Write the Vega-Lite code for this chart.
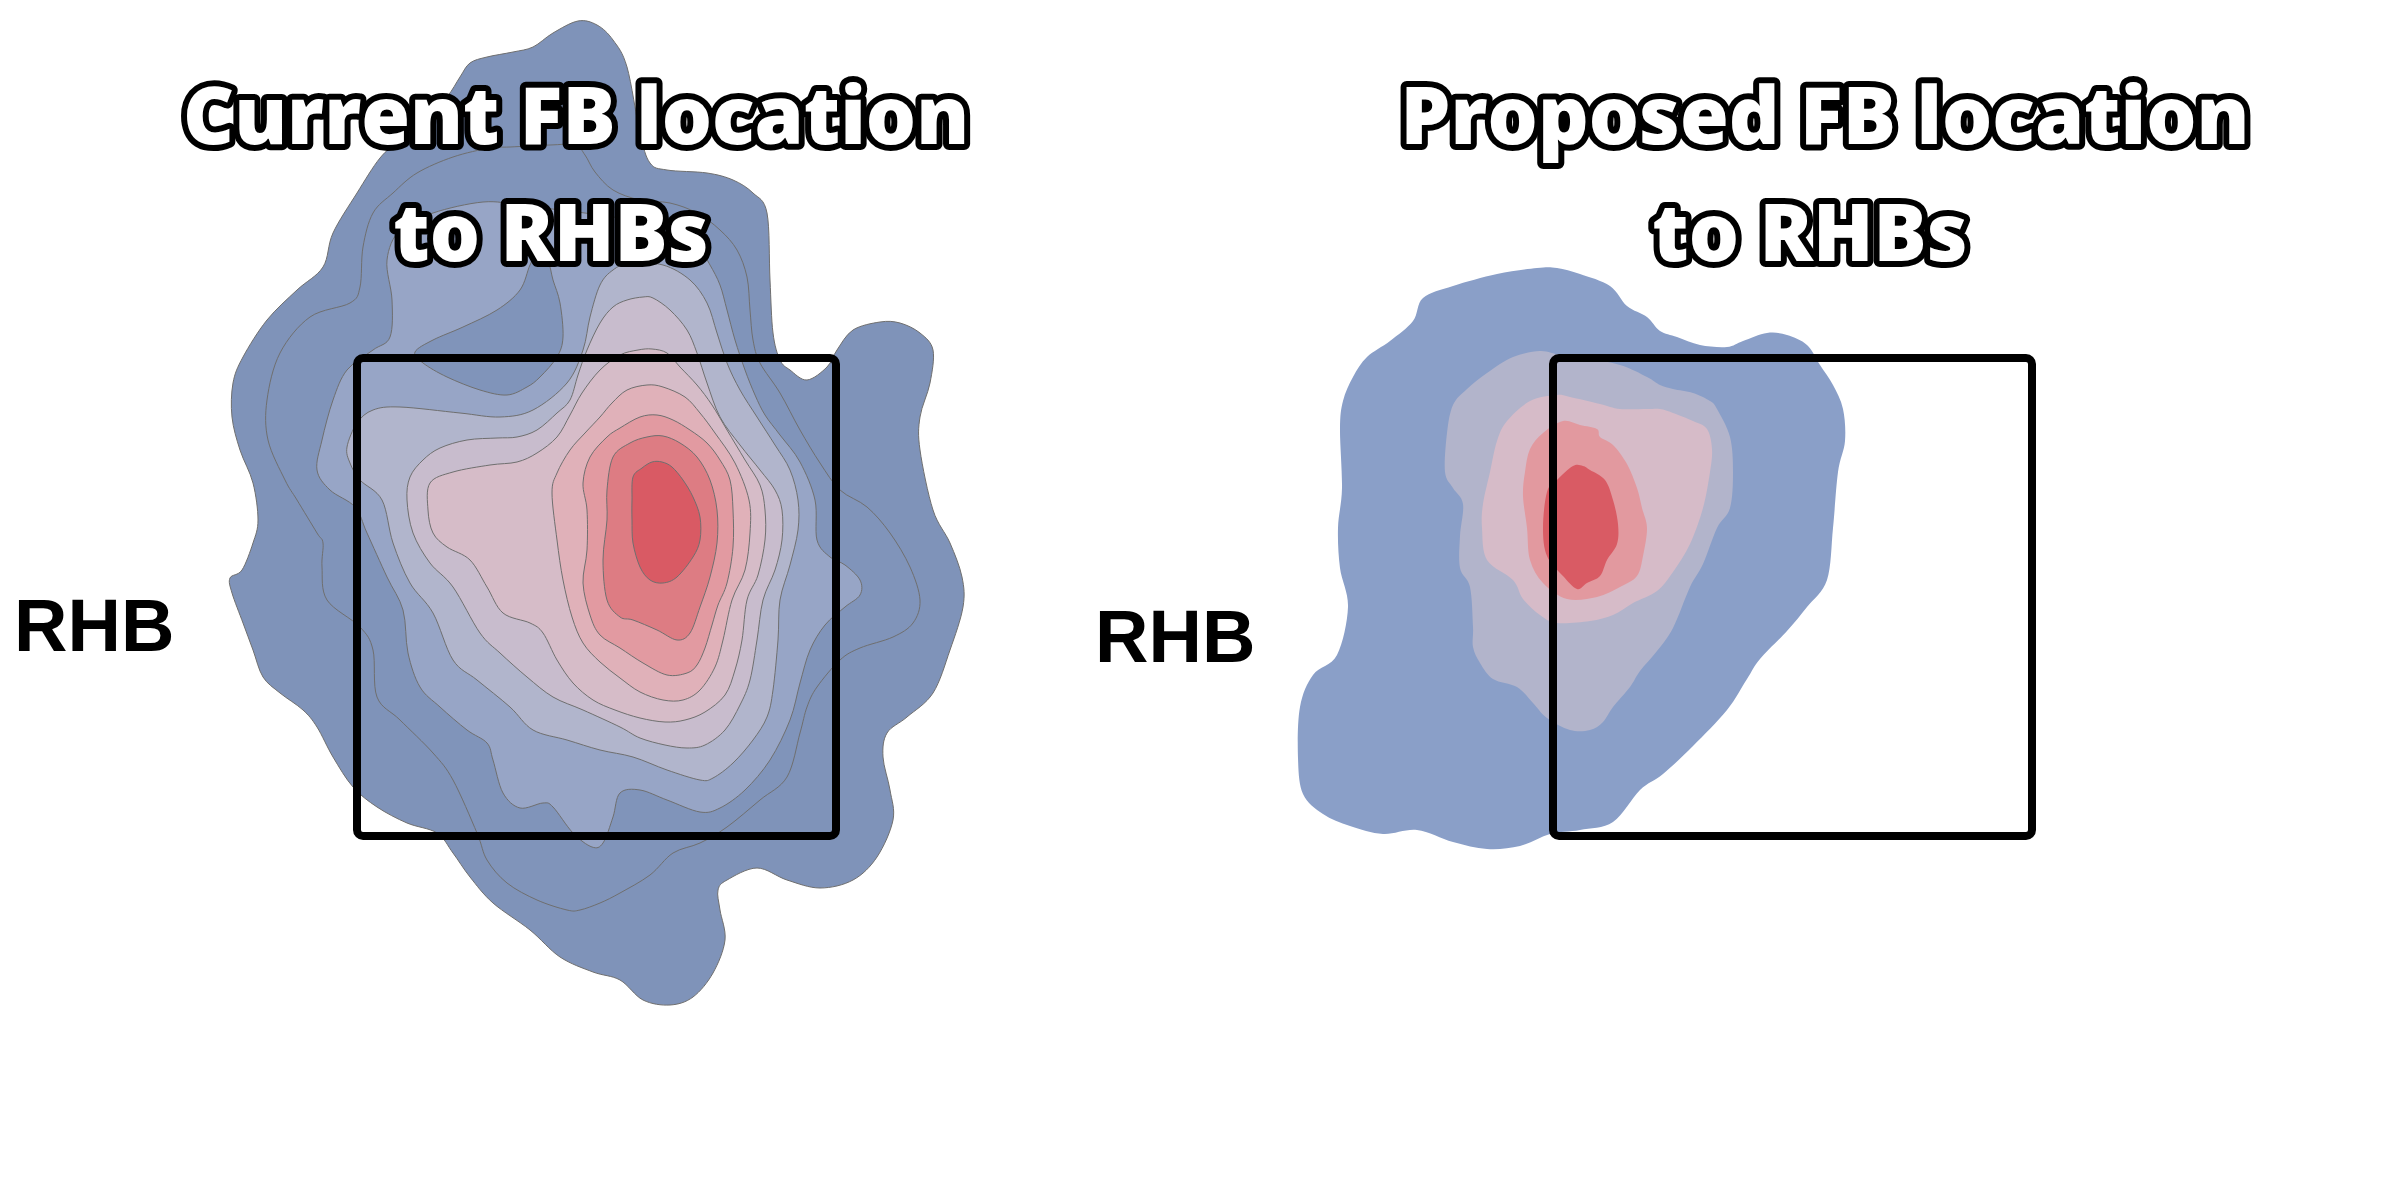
{
"$schema": "https://vega.github.io/schema/vega-lite/v6.json",
"padding": 0,
"spacing": 0,
"bounds": "flush",
"background": "white",
"config": {"view": {"stroke": null, "fill": "white"}},
"datasets": {
"left": [
{"g":"L1","x":-2.2,"y":117.3},{"g":"L1","x":-4.7,"y":116.1},{"g":"L1","x":-6.7,"y":114.7},{"g":"L1","x":-8.7,"y":114.2},{"g":"L1","x":-11.3,"y":113.7},{"g":"L1","x":-13.0,"y":113.1},{"g":"L1","x":-14.0,"y":111.7},{"g":"L1","x":-15.3,"y":109.7},{"g":"L1","x":-17.5,"y":107.4},{"g":"L1","x":-20.0,"y":105.4},{"g":"L1","x":-22.0,"y":103.6},{"g":"L1","x":-24.3,"y":100.1},{"g":"L1","x":-26.7,"y":96.1},{"g":"L1","x":-27.7,"y":92.7},{"g":"L1","x":-30.3,"y":90.4},{"g":"L1","x":-33.3,"y":87.4},{"g":"L1","x":-35.7,"y":83.7},{"g":"L1","x":-36.7,"y":81.1},{"g":"L1","x":-36.8,"y":77.7},{"g":"L1","x":-36.0,"y":74.4},{"g":"L1","x":-34.7,"y":71.1},{"g":"L1","x":-34.2,"y":67.4},{"g":"L1","x":-34.7,"y":65.1},{"g":"L1","x":-35.8,"y":62.4},{"g":"L1","x":-37.0,"y":61.6},{"g":"L1","x":-36.8,"y":60.1},{"g":"L1","x":-35.7,"y":57.1},{"g":"L1","x":-34.7,"y":54.4},{"g":"L1","x":-33.7,"y":51.7},{"g":"L1","x":-32.0,"y":50.1},{"g":"L1","x":-29.7,"y":48.4},{"g":"L1","x":-28.3,"y":46.7},{"g":"L1","x":-26.7,"y":43.7},{"g":"L1","x":-24.7,"y":40.7},{"g":"L1","x":-22.3,"y":38.7},{"g":"L1","x":-19.3,"y":37.1},{"g":"L1","x":-16.3,"y":36.1},{"g":"L1","x":-14.7,"y":34.1},{"g":"L1","x":-13.0,"y":31.7},{"g":"L1","x":-10.7,"y":29.1},{"g":"L1","x":-7.0,"y":26.4},{"g":"L1","x":-4.0,"y":23.7},{"g":"L1","x":-0.7,"y":22.2},{"g":"L1","x":2.0,"y":21.4},{"g":"L1","x":4.3,"y":19.4},{"g":"L1","x":7.0,"y":18.9},{"g":"L1","x":9.3,"y":19.7},{"g":"L1","x":11.3,"y":22.1},{"g":"L1","x":12.5,"y":25.4},{"g":"L1","x":12.0,"y":28.4},{"g":"L1","x":11.8,"y":30.4},{"g":"L1","x":12.7,"y":31.4},{"g":"L1","x":15.7,"y":32.6},{"g":"L1","x":18.7,"y":31.4},{"g":"L1","x":22.0,"y":30.6},{"g":"L1","x":25.3,"y":31.4},{"g":"L1","x":27.7,"y":33.7},{"g":"L1","x":29.3,"y":37.4},{"g":"L1","x":29.0,"y":40.4},{"g":"L1","x":28.3,"y":43.7},{"g":"L1","x":28.7,"y":46.1},{"g":"L1","x":30.7,"y":47.7},{"g":"L1","x":33.3,"y":50.1},{"g":"L1","x":35.0,"y":54.4},{"g":"L1","x":36.3,"y":58.7},{"g":"L1","x":36.2,"y":61.7},{"g":"L1","x":35.0,"y":65.1},{"g":"L1","x":33.3,"y":68.4},{"g":"L1","x":32.0,"y":74.4},{"g":"L1","x":32.0,"y":77.7},{"g":"L1","x":33.0,"y":81.1},{"g":"L1","x":33.3,"y":84.4},{"g":"L1","x":32.0,"y":86.1},{"g":"L1","x":30.0,"y":87.1},{"g":"L1","x":28.0,"y":87.2},{"g":"L1","x":25.3,"y":86.4},{"g":"L1","x":23.7,"y":84.4},{"g":"L1","x":22.7,"y":82.7},{"g":"L1","x":20.7,"y":81.4},{"g":"L1","x":19.0,"y":82.4},{"g":"L1","x":18.0,"y":83.4},{"g":"L1","x":17.3,"y":86.1},{"g":"L1","x":17.0,"y":91.4},{"g":"L1","x":16.7,"y":98.1},{"g":"L1","x":15.3,"y":100.1},{"g":"L1","x":13.3,"y":101.4},{"g":"L1","x":10.7,"y":102.1},{"g":"L1","x":6.7,"y":102.4},{"g":"L1","x":5.0,"y":103.1},{"g":"L1","x":4.0,"y":106.1},{"g":"L1","x":2.7,"y":112.7},{"g":"L1","x":1.3,"y":115.4},{"g":"L1","x":-0.3,"y":116.9},
{"g":"L2","x":-30.3,"y":69.4},{"g":"L2","x":-31.5,"y":71.4},{"g":"L2","x":-33.2,"y":75.4},{"g":"L2","x":-33.3,"y":79.4},{"g":"L2","x":-32.0,"y":84.1},{"g":"L2","x":-29.0,"y":87.7},{"g":"L2","x":-25.0,"y":89.1},{"g":"L2","x":-24.0,"y":90.7},{"g":"L2","x":-23.7,"y":94.7},{"g":"L2","x":-22.7,"y":98.1},{"g":"L2","x":-20.7,"y":100.1},{"g":"L2","x":-18.3,"y":102.1},{"g":"L2","x":-14.7,"y":103.7},{"g":"L2","x":-11.0,"y":104.6},{"g":"L2","x":-9.0,"y":104.7},{"g":"L2","x":-5.0,"y":104.9},{"g":"L2","x":-2.5,"y":104.9},{"g":"L2","x":-1.5,"y":103.9},{"g":"L2","x":-0.5,"y":102.2},{"g":"L2","x":1.3,"y":100.4},{"g":"L2","x":4.0,"y":99.4},{"g":"L2","x":7.0,"y":99.1},{"g":"L2","x":9.7,"y":98.1},{"g":"L2","x":12.0,"y":96.4},{"g":"L2","x":13.7,"y":94.4},{"g":"L2","x":14.7,"y":91.7},{"g":"L2","x":15.0,"y":88.4},{"g":"L2","x":15.3,"y":85.4},{"g":"L2","x":16.0,"y":83.1},{"g":"L2","x":18.0,"y":80.1},{"g":"L2","x":20.0,"y":76.4},{"g":"L2","x":22.0,"y":73.1},{"g":"L2","x":24.0,"y":70.4},{"g":"L2","x":26.7,"y":68.7},{"g":"L2","x":29.0,"y":66.1},{"g":"L2","x":31.0,"y":62.7},{"g":"L2","x":32.0,"y":59.4},{"g":"L2","x":31.3,"y":57.1},{"g":"L2","x":29.3,"y":55.7},{"g":"L2","x":26.0,"y":54.6},{"g":"L2","x":24.0,"y":53.4},{"g":"L2","x":21.7,"y":50.7},{"g":"L2","x":20.7,"y":48.7},{"g":"L2","x":20.0,"y":46.1},{"g":"L2","x":18.7,"y":41.7},{"g":"L2","x":16.0,"y":39.4},{"g":"L2","x":12.7,"y":36.7},{"g":"L2","x":10.0,"y":35.1},{"g":"L2","x":7.3,"y":34.1},{"g":"L2","x":5.0,"y":31.9},{"g":"L2","x":2.0,"y":30.1},{"g":"L2","x":0.0,"y":29.1},{"g":"L2","x":-2.0,"y":28.4},{"g":"L2","x":-3.3,"y":28.4},{"g":"L2","x":-6.3,"y":29.4},{"g":"L2","x":-9.3,"y":31.1},{"g":"L2","x":-11.3,"y":33.4},{"g":"L2","x":-12.3,"y":36.1},{"g":"L2","x":-14.7,"y":41.4},{"g":"L2","x":-16.7,"y":44.1},{"g":"L2","x":-20.0,"y":47.4},{"g":"L2","x":-22.3,"y":49.7},{"g":"L2","x":-22.7,"y":54.4},{"g":"L2","x":-24.0,"y":56.7},{"g":"L2","x":-27.3,"y":59.4},{"g":"L2","x":-27.8,"y":62.7},{"g":"L2","x":-27.7,"y":65.1},{"g":"L2","x":-28.3,"y":66.1},
{"g":"L3","x":-24.5,"y":68.7},{"g":"L3","x":-27.0,"y":70.4},{"g":"L3","x":-28.3,"y":72.4},{"g":"L3","x":-27.8,"y":75.4},{"g":"L3","x":-26.7,"y":79.4},{"g":"L3","x":-25.3,"y":82.4},{"g":"L3","x":-22.7,"y":84.4},{"g":"L3","x":-21.0,"y":85.7},{"g":"L3","x":-20.8,"y":89.4},{"g":"L3","x":-21.3,"y":93.4},{"g":"L3","x":-20.0,"y":96.4},{"g":"L3","x":-16.7,"y":98.1},{"g":"L3","x":-11.7,"y":99.2},{"g":"L3","x":-8.0,"y":98.9},{"g":"L3","x":-4.0,"y":98.4},{"g":"L3","x":0.0,"y":97.9},{"g":"L3","x":4.0,"y":97.2},{"g":"L3","x":8.0,"y":95.9},{"g":"L3","x":10.0,"y":94.4},{"g":"L3","x":11.0,"y":92.9},{"g":"L3","x":12.0,"y":90.9},{"g":"L3","x":12.7,"y":88.4},{"g":"L3","x":13.5,"y":85.4},{"g":"L3","x":14.5,"y":82.4},{"g":"L3","x":15.5,"y":79.9},{"g":"L3","x":16.5,"y":77.9},{"g":"L3","x":18.0,"y":75.9},{"g":"L3","x":20.0,"y":73.2},{"g":"L3","x":21.5,"y":69.4},{"g":"L3","x":21.7,"y":65.4},{"g":"L3","x":23.0,"y":63.7},{"g":"L3","x":24.5,"y":62.9},{"g":"L3","x":26.0,"y":61.4},{"g":"L3","x":26.0,"y":59.9},{"g":"L3","x":24.5,"y":58.7},{"g":"L3","x":22.5,"y":56.9},{"g":"L3","x":21.0,"y":54.4},{"g":"L3","x":20.0,"y":51.1},{"g":"L3","x":19.0,"y":47.4},{"g":"L3","x":17.0,"y":43.4},{"g":"L3","x":14.5,"y":40.4},{"g":"L3","x":12.0,"y":38.6},{"g":"L3","x":10.0,"y":38.2},{"g":"L3","x":6.7,"y":39.4},{"g":"L3","x":4.0,"y":40.4},{"g":"L3","x":2.0,"y":40.1},{"g":"L3","x":1.3,"y":37.7},{"g":"L3","x":0.3,"y":35.1},{"g":"L3","x":-0.8,"y":34.7},{"g":"L3","x":-2.7,"y":36.1},{"g":"L3","x":-4.7,"y":38.7},{"g":"L3","x":-5.7,"y":39.1},{"g":"L3","x":-8.0,"y":38.6},{"g":"L3","x":-9.7,"y":40.1},{"g":"L3","x":-10.7,"y":43.4},{"g":"L3","x":-11.3,"y":45.1},{"g":"L3","x":-13.3,"y":46.4},{"g":"L3","x":-16.0,"y":48.7},{"g":"L3","x":-18.0,"y":50.7},{"g":"L3","x":-19.2,"y":54.1},{"g":"L3","x":-19.7,"y":58.4},{"g":"L3","x":-21.3,"y":61.7},{"g":"L3","x":-23.3,"y":66.1},
{"g":"I","x":-6.3,"y":93.9},{"g":"I","x":-5.2,"y":93.2},{"g":"I","x":-4.7,"y":91.4},{"g":"I","x":-4.0,"y":89.1},{"g":"I","x":-3.7,"y":85.7},{"g":"I","x":-4.3,"y":83.7},{"g":"I","x":-6.0,"y":81.7},{"g":"I","x":-7.3,"y":80.7},{"g":"I","x":-9.3,"y":79.9},{"g":"I","x":-12.0,"y":80.4},{"g":"I","x":-15.3,"y":81.7},{"g":"I","x":-17.7,"y":83.1},{"g":"I","x":-18.5,"y":84.2},{"g":"I","x":-16.7,"y":85.4},{"g":"I","x":-13.7,"y":86.7},{"g":"I","x":-10.3,"y":88.4},{"g":"I","x":-8.0,"y":90.4},{"g":"I","x":-7.0,"y":92.9},
{"g":"L4","x":-25.3,"y":74.7},{"g":"L4","x":-24.3,"y":77.1},{"g":"L4","x":-22.7,"y":78.4},{"g":"L4","x":-20.0,"y":78.7},{"g":"L4","x":-14.0,"y":78.1},{"g":"L4","x":-10.0,"y":77.7},{"g":"L4","x":-6.7,"y":78.4},{"g":"L4","x":-3.3,"y":81.1},{"g":"L4","x":-1.7,"y":84.4},{"g":"L4","x":-1.0,"y":87.7},{"g":"L4","x":0.0,"y":90.9},{"g":"L4","x":1.3,"y":92.4},{"g":"L4","x":3.0,"y":93.1},{"g":"L4","x":6.3,"y":92.9},{"g":"L4","x":9.0,"y":91.4},{"g":"L4","x":10.7,"y":89.1},{"g":"L4","x":11.7,"y":86.1},{"g":"L4","x":12.7,"y":83.1},{"g":"L4","x":14.0,"y":80.4},{"g":"L4","x":15.7,"y":77.7},{"g":"L4","x":17.5,"y":74.9},{"g":"L4","x":19.0,"y":72.4},{"g":"L4","x":19.8,"y":69.4},{"g":"L4","x":19.8,"y":66.4},{"g":"L4","x":19.0,"y":62.9},{"g":"L4","x":18.0,"y":59.4},{"g":"L4","x":17.8,"y":55.4},{"g":"L4","x":17.3,"y":50.4},{"g":"L4","x":16.7,"y":47.7},{"g":"L4","x":15.3,"y":45.4},{"g":"L4","x":13.3,"y":43.1},{"g":"L4","x":11.3,"y":41.6},{"g":"L4","x":10.0,"y":41.4},{"g":"L4","x":6.7,"y":42.4},{"g":"L4","x":3.3,"y":43.7},{"g":"L4","x":0.0,"y":44.4},{"g":"L4","x":-3.3,"y":45.4},{"g":"L4","x":-6.7,"y":46.4},{"g":"L4","x":-9.0,"y":48.7},{"g":"L4","x":-12.3,"y":51.4},{"g":"L4","x":-14.7,"y":53.4},{"g":"L4","x":-16.7,"y":58.1},{"g":"L4","x":-19.0,"y":61.1},{"g":"L4","x":-20.7,"y":65.1},{"g":"L4","x":-21.8,"y":69.4},{"g":"L4","x":-24.0,"y":71.4},{"g":"L4","x":-25.0,"y":73.1},
{"g":"L5","x":-19.3,"y":69.4},{"g":"L5","x":-19.0,"y":71.7},{"g":"L5","x":-17.7,"y":73.4},{"g":"L5","x":-16.0,"y":74.6},{"g":"L5","x":-13.3,"y":75.4},{"g":"L5","x":-10.3,"y":75.6},{"g":"L5","x":-8.3,"y":75.7},{"g":"L5","x":-6.3,"y":76.4},{"g":"L5","x":-4.3,"y":78.1},{"g":"L5","x":-3.0,"y":79.4},{"g":"L5","x":-2.2,"y":81.9},{"g":"L5","x":-1.3,"y":84.4},{"g":"L5","x":0.0,"y":87.1},{"g":"L5","x":1.3,"y":88.7},{"g":"L5","x":2.7,"y":89.4},{"g":"L5","x":4.3,"y":89.7},{"g":"L5","x":5.3,"y":89.6},{"g":"L5","x":7.0,"y":88.4},{"g":"L5","x":8.7,"y":86.4},{"g":"L5","x":9.7,"y":84.1},{"g":"L5","x":10.7,"y":81.1},{"g":"L5","x":12.0,"y":77.7},{"g":"L5","x":14.0,"y":74.9},{"g":"L5","x":16.0,"y":72.4},{"g":"L5","x":17.5,"y":70.4},{"g":"L5","x":18.2,"y":68.4},{"g":"L5","x":18.2,"y":65.4},{"g":"L5","x":17.5,"y":62.4},{"g":"L5","x":16.3,"y":59.4},{"g":"L5","x":15.7,"y":55.4},{"g":"L5","x":15.0,"y":51.4},{"g":"L5","x":14.0,"y":48.9},{"g":"L5","x":12.5,"y":46.4},{"g":"L5","x":10.5,"y":44.9},{"g":"L5","x":8.7,"y":44.6},{"g":"L5","x":6.5,"y":44.9},{"g":"L5","x":4.0,"y":45.6},{"g":"L5","x":2.0,"y":46.7},{"g":"L5","x":-1.7,"y":48.4},{"g":"L5","x":-4.7,"y":49.7},{"g":"L5","x":-7.3,"y":51.7},{"g":"L5","x":-10.0,"y":54.1},{"g":"L5","x":-12.0,"y":56.1},{"g":"L5","x":-14.7,"y":60.7},{"g":"L5","x":-17.0,"y":63.1},{"g":"L5","x":-18.7,"y":66.1},
{"g":"L6","x":-17.0,"y":71.1},{"g":"L6","x":-14.7,"y":72.2},{"g":"L6","x":-11.0,"y":72.9},{"g":"L6","x":-8.3,"y":73.2},{"g":"L6","x":-6.3,"y":74.1},{"g":"L6","x":-4.3,"y":75.7},{"g":"L6","x":-3.0,"y":77.9},{"g":"L6","x":-1.8,"y":80.1},{"g":"L6","x":0.0,"y":82.4},{"g":"L6","x":2.0,"y":83.9},{"g":"L6","x":3.8,"y":84.4},{"g":"L6","x":5.2,"y":84.5},{"g":"L6","x":6.7,"y":84.1},{"g":"L6","x":8.0,"y":82.7},{"g":"L6","x":9.7,"y":80.9},{"g":"L6","x":11.2,"y":78.9},{"g":"L6","x":12.7,"y":76.4},{"g":"L6","x":14.5,"y":73.4},{"g":"L6","x":16.0,"y":70.9},{"g":"L6","x":16.5,"y":68.4},{"g":"L6","x":16.5,"y":65.4},{"g":"L6","x":15.8,"y":61.9},{"g":"L6","x":14.7,"y":59.4},{"g":"L6","x":14.2,"y":55.4},{"g":"L6","x":13.5,"y":52.4},{"g":"L6","x":12.5,"y":49.9},{"g":"L6","x":10.5,"y":48.2},{"g":"L6","x":8.5,"y":47.4},{"g":"L6","x":6.5,"y":47.2},{"g":"L6","x":4.0,"y":47.6},{"g":"L6","x":1.5,"y":48.4},{"g":"L6","x":-0.7,"y":49.4},{"g":"L6","x":-2.7,"y":51.1},{"g":"L6","x":-4.3,"y":53.4},{"g":"L6","x":-5.7,"y":56.1},{"g":"L6","x":-7.0,"y":57.1},{"g":"L6","x":-9.7,"y":58.1},{"g":"L6","x":-11.3,"y":60.7},{"g":"L6","x":-13.0,"y":63.4},{"g":"L6","x":-15.3,"y":64.7},{"g":"L6","x":-16.7,"y":66.1},{"g":"L6","x":-17.2,"y":68.4},
{"g":"L7","x":-4.8,"y":70.1},{"g":"L7","x":-4.3,"y":72.1},{"g":"L7","x":-3.0,"y":74.4},{"g":"L7","x":-1.5,"y":76.1},{"g":"L7","x":0.0,"y":77.7},{"g":"L7","x":1.2,"y":79.1},{"g":"L7","x":2.7,"y":80.4},{"g":"L7","x":4.7,"y":80.9},{"g":"L7","x":6.3,"y":80.7},{"g":"L7","x":8.5,"y":79.7},{"g":"L7","x":10.0,"y":78.1},{"g":"L7","x":11.5,"y":76.1},{"g":"L7","x":13.5,"y":73.1},{"g":"L7","x":14.9,"y":69.4},{"g":"L7","x":15.0,"y":66.1},{"g":"L7","x":14.5,"y":62.4},{"g":"L7","x":13.2,"y":59.4},{"g":"L7","x":12.3,"y":55.4},{"g":"L7","x":11.5,"y":52.7},{"g":"L7","x":10.0,"y":50.4},{"g":"L7","x":8.3,"y":49.4},{"g":"L7","x":6.3,"y":49.4},{"g":"L7","x":4.0,"y":50.2},{"g":"L7","x":2.0,"y":51.6},{"g":"L7","x":0.0,"y":53.2},{"g":"L7","x":-1.7,"y":55.1},{"g":"L7","x":-2.8,"y":57.7},{"g":"L7","x":-3.7,"y":61.4},{"g":"L7","x":-4.3,"y":65.4},
{"g":"L8","x":-1.0,"y":73.7},{"g":"L8","x":0.7,"y":75.7},{"g":"L8","x":2.0,"y":76.6},{"g":"L8","x":4.0,"y":77.7},{"g":"L8","x":5.7,"y":77.9},{"g":"L8","x":7.3,"y":77.4},{"g":"L8","x":9.0,"y":76.4},{"g":"L8","x":10.7,"y":75.1},{"g":"L8","x":12.0,"y":73.4},{"g":"L8","x":13.0,"y":71.4},{"g":"L8","x":13.3,"y":68.4},{"g":"L8","x":13.3,"y":64.7},{"g":"L8","x":12.7,"y":61.1},{"g":"L8","x":11.8,"y":58.9},{"g":"L8","x":11.2,"y":56.9},{"g":"L8","x":10.5,"y":54.6},{"g":"L8","x":9.7,"y":52.9},{"g":"L8","x":8.7,"y":52.1},{"g":"L8","x":6.7,"y":51.9},{"g":"L8","x":4.3,"y":53.1},{"g":"L8","x":2.0,"y":54.6},{"g":"L8","x":0.0,"y":55.9},{"g":"L8","x":-1.0,"y":57.9},{"g":"L8","x":-1.7,"y":61.1},{"g":"L8","x":-1.3,"y":64.4},{"g":"L8","x":-1.3,"y":68.4},{"g":"L8","x":-1.7,"y":71.1},
{"g":"L9","x":1.3,"y":73.7},{"g":"L9","x":3.0,"y":75.1},{"g":"L9","x":4.7,"y":75.7},{"g":"L9","x":6.3,"y":75.8},{"g":"L9","x":8.0,"y":75.1},{"g":"L9","x":9.7,"y":73.7},{"g":"L9","x":11.0,"y":71.4},{"g":"L9","x":11.7,"y":68.4},{"g":"L9","x":11.7,"y":65.1},{"g":"L9","x":11.0,"y":61.7},{"g":"L9","x":10.0,"y":58.7},{"g":"L9","x":9.0,"y":56.1},{"g":"L9","x":7.7,"y":55.4},{"g":"L9","x":5.7,"y":56.4},{"g":"L9","x":3.3,"y":57.4},{"g":"L9","x":2.0,"y":57.7},{"g":"L9","x":0.7,"y":59.4},{"g":"L9","x":0.3,"y":63.4},{"g":"L9","x":0.7,"y":67.4},{"g":"L9","x":0.7,"y":70.4},
{"g":"L10","x":3.2,"y":69.4},{"g":"L10","x":3.3,"y":71.7},{"g":"L10","x":4.2,"y":72.6},{"g":"L10","x":5.2,"y":73.2},{"g":"L10","x":6.2,"y":73.2},{"g":"L10","x":7.2,"y":72.7},{"g":"L10","x":8.3,"y":71.4},{"g":"L10","x":9.3,"y":69.7},{"g":"L10","x":10.0,"y":67.7},{"g":"L10","x":10.0,"y":65.4},{"g":"L10","x":9.3,"y":63.7},{"g":"L10","x":7.7,"y":61.7},{"g":"L10","x":6.3,"y":61.1},{"g":"L10","x":5.0,"y":61.4},{"g":"L10","x":4.0,"y":62.7},{"g":"L10","x":3.3,"y":65.1},{"g":"L10","x":3.2,"y":67.4}
],
"right": [
{"g":"R1","x":-25.9,"y":92.6},{"g":"R1","x":-29.9,"y":92.0},{"g":"R1","x":-34.3,"y":90.8},{"g":"R1","x":-37.3,"y":89.6},{"g":"R1","x":-38.3,"y":87.3},{"g":"R1","x":-40.6,"y":85.3},{"g":"R1","x":-42.9,"y":83.7},{"g":"R1","x":-44.3,"y":81.7},{"g":"R1","x":-45.3,"y":79.3},{"g":"R1","x":-45.6,"y":76.5},{"g":"R1","x":-45.4,"y":70.6},{"g":"R1","x":-45.8,"y":66.6},{"g":"R1","x":-45.6,"y":62.6},{"g":"R1","x":-44.8,"y":58.7},{"g":"R1","x":-45.9,"y":53.9},{"g":"R1","x":-48.3,"y":51.9},{"g":"R1","x":-49.6,"y":48.7},{"g":"R1","x":-49.8,"y":43.6},{"g":"R1","x":-49.3,"y":40.0},{"g":"R1","x":-47.3,"y":38.0},{"g":"R1","x":-44.6,"y":36.8},{"g":"R1","x":-41.3,"y":36.0},{"g":"R1","x":-37.9,"y":36.4},{"g":"R1","x":-34.3,"y":35.2},{"g":"R1","x":-30.9,"y":34.5},{"g":"R1","x":-27.6,"y":34.8},{"g":"R1","x":-24.6,"y":36.0},{"g":"R1","x":-21.6,"y":36.4},{"g":"R1","x":-18.3,"y":37.2},{"g":"R1","x":-15.6,"y":40.4},{"g":"R1","x":-13.3,"y":42.0},{"g":"R1","x":-10.3,"y":44.8},{"g":"R1","x":-6.9,"y":48.4},{"g":"R1","x":-4.9,"y":51.5},{"g":"R1","x":-3.6,"y":53.5},{"g":"R1","x":-0.9,"y":56.3},{"g":"R1","x":1.1,"y":58.7},{"g":"R1","x":3.1,"y":61.4},{"g":"R1","x":3.7,"y":66.6},{"g":"R1","x":4.2,"y":72.2},{"g":"R1","x":4.9,"y":75.3},{"g":"R1","x":4.7,"y":78.5},{"g":"R1","x":3.7,"y":80.9},{"g":"R1","x":2.4,"y":82.9},{"g":"R1","x":1.1,"y":84.9},{"g":"R1","x":-0.9,"y":85.9},{"g":"R1","x":-2.9,"y":86.1},{"g":"R1","x":-5.3,"y":85.3},{"g":"R1","x":-6.9,"y":84.7},{"g":"R1","x":-9.6,"y":84.9},{"g":"R1","x":-11.9,"y":85.7},{"g":"R1","x":-13.6,"y":86.3},{"g":"R1","x":-14.9,"y":87.7},{"g":"R1","x":-16.9,"y":88.8},{"g":"R1","x":-18.6,"y":90.8},{"g":"R1","x":-21.6,"y":92.0},{"g":"R1","x":-23.9,"y":92.6},
{"g":"R2","x":-25.6,"y":84.3},{"g":"R2","x":-28.3,"y":83.7},{"g":"R2","x":-30.9,"y":82.1},{"g":"R2","x":-32.9,"y":80.5},{"g":"R2","x":-34.3,"y":78.9},{"g":"R2","x":-34.9,"y":76.1},{"g":"R2","x":-35.1,"y":72.2},{"g":"R2","x":-34.3,"y":70.6},{"g":"R2","x":-33.3,"y":69.0},{"g":"R2","x":-33.6,"y":65.8},{"g":"R2","x":-33.6,"y":62.6},{"g":"R2","x":-32.6,"y":60.7},{"g":"R2","x":-32.3,"y":56.7},{"g":"R2","x":-32.3,"y":54.7},{"g":"R2","x":-31.6,"y":53.1},{"g":"R2","x":-30.3,"y":51.5},{"g":"R2","x":-27.9,"y":50.7},{"g":"R2","x":-26.3,"y":49.1},{"g":"R2","x":-24.9,"y":47.6},{"g":"R2","x":-22.6,"y":46.4},{"g":"R2","x":-20.6,"y":46.4},{"g":"R2","x":-19.3,"y":47.2},{"g":"R2","x":-18.3,"y":48.7},{"g":"R2","x":-16.6,"y":50.7},{"g":"R2","x":-15.6,"y":52.3},{"g":"R2","x":-13.9,"y":54.3},{"g":"R2","x":-12.3,"y":56.6},{"g":"R2","x":-10.6,"y":60.7},{"g":"R2","x":-9.3,"y":63.0},{"g":"R2","x":-7.9,"y":66.6},{"g":"R2","x":-6.6,"y":68.6},{"g":"R2","x":-6.3,"y":72.2},{"g":"R2","x":-6.6,"y":75.7},{"g":"R2","x":-7.9,"y":78.5},{"g":"R2","x":-8.6,"y":79.3},{"g":"R2","x":-10.3,"y":80.1},{"g":"R2","x":-12.3,"y":80.5},{"g":"R2","x":-13.6,"y":80.9},{"g":"R2","x":-14.9,"y":81.7},{"g":"R2","x":-17.6,"y":82.9},{"g":"R2","x":-21.6,"y":83.7},{"g":"R2","x":-23.6,"y":83.9},
{"g":"R3","x":-23.9,"y":79.9},{"g":"R3","x":-26.6,"y":79.3},{"g":"R3","x":-28.9,"y":77.3},{"g":"R3","x":-29.9,"y":75.3},{"g":"R3","x":-30.6,"y":72.2},{"g":"R3","x":-31.3,"y":69.0},{"g":"R3","x":-31.4,"y":66.6},{"g":"R3","x":-30.9,"y":63.4},{"g":"R3","x":-28.3,"y":61.4},{"g":"R3","x":-27.3,"y":59.5},{"g":"R3","x":-25.6,"y":57.9},{"g":"R3","x":-23.9,"y":57.1},{"g":"R3","x":-20.6,"y":57.3},{"g":"R3","x":-18.3,"y":57.9},{"g":"R3","x":-16.3,"y":59.1},{"g":"R3","x":-13.9,"y":60.3},{"g":"R3","x":-12.3,"y":62.2},{"g":"R3","x":-10.6,"y":65.0},{"g":"R3","x":-9.3,"y":68.6},{"g":"R3","x":-8.6,"y":72.2},{"g":"R3","x":-8.4,"y":74.5},{"g":"R3","x":-8.9,"y":76.5},{"g":"R3","x":-10.3,"y":77.3},{"g":"R3","x":-12.3,"y":78.1},{"g":"R3","x":-13.6,"y":78.5},{"g":"R3","x":-14.9,"y":78.5},{"g":"R3","x":-17.6,"y":78.5},{"g":"R3","x":-19.6,"y":79.0},{"g":"R3","x":-22.6,"y":79.7},
{"g":"R4","x":-23.3,"y":77.3},{"g":"R4","x":-25.3,"y":76.1},{"g":"R4","x":-26.6,"y":74.5},{"g":"R4","x":-27.1,"y":72.2},{"g":"R4","x":-27.3,"y":69.8},{"g":"R4","x":-26.9,"y":66.6},{"g":"R4","x":-26.6,"y":63.4},{"g":"R4","x":-25.3,"y":61.1},{"g":"R4","x":-22.9,"y":59.5},{"g":"R4","x":-19.9,"y":59.7},{"g":"R4","x":-17.6,"y":60.7},{"g":"R4","x":-15.9,"y":61.8},{"g":"R4","x":-15.3,"y":63.8},{"g":"R4","x":-14.9,"y":66.6},{"g":"R4","x":-15.4,"y":68.6},{"g":"R4","x":-15.9,"y":70.6},{"g":"R4","x":-16.9,"y":73.0},{"g":"R4","x":-18.3,"y":74.9},{"g":"R4","x":-19.6,"y":75.7},{"g":"R4","x":-19.9,"y":76.5},{"g":"R4","x":-21.6,"y":76.9},
{"g":"R5","x":-22.3,"y":72.8},{"g":"R5","x":-23.9,"y":71.4},{"g":"R5","x":-24.9,"y":70.2},{"g":"R5","x":-25.3,"y":66.6},{"g":"R5","x":-24.9,"y":63.8},{"g":"R5","x":-23.3,"y":61.8},{"g":"R5","x":-21.9,"y":60.5},{"g":"R5","x":-20.9,"y":61.1},{"g":"R5","x":-19.6,"y":61.8},{"g":"R5","x":-18.9,"y":63.4},{"g":"R5","x":-17.9,"y":65.0},{"g":"R5","x":-17.8,"y":67.0},{"g":"R5","x":-18.3,"y":69.4},{"g":"R5","x":-19.1,"y":71.4},{"g":"R5","x":-20.6,"y":72.4},{"g":"R5","x":-21.3,"y":72.8}
],
"zone": [{"x1": -24.3, "x2": 23.6, "y1": 35.8, "y2": 83.6}],
"titleL": [{"t": "Current FB location", "x": -2.4, "y": 105.0}, {"t": "to RHBs", "x": -4.9, "y": 93.3}],
"titleR": [{"t": "Proposed FB location", "x": 2.9, "y": 105.0}, {"t": "to RHBs", "x": 1.4, "y": 93.3}],
"labelL": [{"t": "RHB", "x": -58.6, "y": 54.3}],
"labelR": [{"t": "RHB", "x": -70.1, "y": 53.2}]
},
"hconcat": [
{
"width": 1196, "height": 1194,
"encoding": {
"x": {"field": "x", "type": "quantitative", "scale": {"domain": [-60, 59.6], "nice": false, "zero": false}, "axis": null},
"y": {"field": "y", "type": "quantitative", "scale": {"domain": [0, 119.4], "nice": false, "zero": false}, "axis": null}
},
"layer": [
{"data": {"name": "left"}, "transform": [{"filter": {"field": "g", "equal": "L1"}}], "mark": {"type": "line", "filled": true, "fill": "#7f93b9", "stroke": "#6f6f6f", "strokeWidth": 1, "interpolate": "cardinal-closed"}, "encoding": {"order": {"value": null}}},
{"data": {"name": "left"}, "transform": [{"filter": {"field": "g", "equal": "L2"}}], "mark": {"type": "line", "filled": true, "fill": "#8094ba", "stroke": "#6f6f6f", "strokeWidth": 1, "interpolate": "cardinal-closed"}, "encoding": {"order": {"value": null}}},
{"data": {"name": "left"}, "transform": [{"filter": {"field": "g", "equal": "L3"}}], "mark": {"type": "line", "filled": true, "fill": "#97a5c6", "stroke": "#6f6f6f", "strokeWidth": 1, "interpolate": "cardinal-closed"}, "encoding": {"order": {"value": null}}},
{"data": {"name": "left"}, "transform": [{"filter": {"field": "g", "equal": "I"}}], "mark": {"type": "line", "filled": true, "fill": "#8094ba", "stroke": "#6f6f6f", "strokeWidth": 1, "interpolate": "cardinal-closed"}, "encoding": {"order": {"value": null}}},
{"data": {"name": "left"}, "transform": [{"filter": {"field": "g", "equal": "L4"}}], "mark": {"type": "line", "filled": true, "fill": "#b1b5cc", "stroke": "#6f6f6f", "strokeWidth": 1, "interpolate": "cardinal-closed"}, "encoding": {"order": {"value": null}}},
{"data": {"name": "left"}, "transform": [{"filter": {"field": "g", "equal": "L5"}}], "mark": {"type": "line", "filled": true, "fill": "#c8bccd", "stroke": "#6f6f6f", "strokeWidth": 1, "interpolate": "cardinal-closed"}, "encoding": {"order": {"value": null}}},
{"data": {"name": "left"}, "transform": [{"filter": {"field": "g", "equal": "L6"}}], "mark": {"type": "line", "filled": true, "fill": "#d6bcc8", "stroke": "#6f6f6f", "strokeWidth": 1, "interpolate": "cardinal-closed"}, "encoding": {"order": {"value": null}}},
{"data": {"name": "left"}, "transform": [{"filter": {"field": "g", "equal": "L7"}}], "mark": {"type": "line", "filled": true, "fill": "#e0b1b9", "stroke": "#6f6f6f", "strokeWidth": 1, "interpolate": "cardinal-closed"}, "encoding": {"order": {"value": null}}},
{"data": {"name": "left"}, "transform": [{"filter": {"field": "g", "equal": "L8"}}], "mark": {"type": "line", "filled": true, "fill": "#e29aa1", "stroke": "#6f6f6f", "strokeWidth": 1, "interpolate": "cardinal-closed"}, "encoding": {"order": {"value": null}}},
{"data": {"name": "left"}, "transform": [{"filter": {"field": "g", "equal": "L9"}}], "mark": {"type": "line", "filled": true, "fill": "#dd7c83", "stroke": "#6f6f6f", "strokeWidth": 1, "interpolate": "cardinal-closed"}, "encoding": {"order": {"value": null}}},
{"data": {"name": "left"}, "transform": [{"filter": {"field": "g", "equal": "L10"}}], "mark": {"type": "line", "filled": true, "fill": "#d95a64", "stroke": "#6f6f6f", "strokeWidth": 1, "interpolate": "cardinal-closed"}, "encoding": {"order": {"value": null}}},
{"data": {"name": "zone"}, "mark": {"type": "rect", "filled": false, "stroke": "black", "strokeWidth": 8, "cornerRadius": 6}, "encoding": {"x": {"field": "x1", "type": "quantitative"}, "x2": {"field": "x2"}, "y": {"field": "y1", "type": "quantitative"}, "y2": {"field": "y2"}}},
{"data": {"name": "labelL"}, "mark": {"type": "text", "font": "Liberation Sans", "fontWeight": "bold", "fontSize": 74, "fill": "black", "align": "left", "baseline": "alphabetic"}, "encoding": {"text": {"field": "t"}}},
{"data": {"name": "titleL"}, "mark": {"type": "text", "font": "Open Sans", "fontWeight": 800, "fontSize": 79, "fill": "black", "stroke": "black", "strokeWidth": 12, "strokeJoin": "round", "align": "center", "baseline": "alphabetic"}, "encoding": {"text": {"field": "t"}}},
{"data": {"name": "titleL"}, "mark": {"type": "text", "font": "Open Sans", "fontWeight": 800, "fontSize": 79, "fill": "white", "align": "center", "baseline": "alphabetic"}, "encoding": {"text": {"field": "t"}}}
]
},
{
"width": 1196, "height": 1194,
"encoding": {
"x": {"field": "x", "type": "quantitative", "scale": {"domain": [-60, 59.6], "nice": false, "zero": false}, "axis": null},
"y": {"field": "y", "type": "quantitative", "scale": {"domain": [0, 119.4], "nice": false, "zero": false}, "axis": null}
},
"layer": [
{"data": {"name": "right"}, "transform": [{"filter": {"field": "g", "equal": "R1"}}], "mark": {"type": "line", "filled": true, "fill": "#8a9fc8", "strokeWidth": 0, "interpolate": "cardinal-closed"}, "encoding": {"order": {"value": null}}},
{"data": {"name": "right"}, "transform": [{"filter": {"field": "g", "equal": "R2"}}], "mark": {"type": "line", "filled": true, "fill": "#b2b4cb", "strokeWidth": 0, "interpolate": "cardinal-closed"}, "encoding": {"order": {"value": null}}},
{"data": {"name": "right"}, "transform": [{"filter": {"field": "g", "equal": "R3"}}], "mark": {"type": "line", "filled": true, "fill": "#d6bbc8", "strokeWidth": 0, "interpolate": "cardinal-closed"}, "encoding": {"order": {"value": null}}},
{"data": {"name": "right"}, "transform": [{"filter": {"field": "g", "equal": "R4"}}], "mark": {"type": "line", "filled": true, "fill": "#e2999f", "strokeWidth": 0, "interpolate": "cardinal-closed"}, "encoding": {"order": {"value": null}}},
{"data": {"name": "right"}, "transform": [{"filter": {"field": "g", "equal": "R5"}}], "mark": {"type": "line", "filled": true, "fill": "#d95b64", "strokeWidth": 0, "interpolate": "cardinal-closed"}, "encoding": {"order": {"value": null}}},
{"data": {"name": "zone"}, "mark": {"type": "rect", "filled": false, "stroke": "black", "strokeWidth": 8, "cornerRadius": 6}, "encoding": {"x": {"field": "x1", "type": "quantitative"}, "x2": {"field": "x2"}, "y": {"field": "y1", "type": "quantitative"}, "y2": {"field": "y2"}}},
{"data": {"name": "labelR"}, "mark": {"type": "text", "font": "Liberation Sans", "fontWeight": "bold", "fontSize": 74, "fill": "black", "align": "left", "baseline": "alphabetic"}, "encoding": {"text": {"field": "t"}}},
{"data": {"name": "titleR"}, "mark": {"type": "text", "font": "Open Sans", "fontWeight": 800, "fontSize": 79, "fill": "black", "stroke": "black", "strokeWidth": 12, "strokeJoin": "round", "align": "center", "baseline": "alphabetic"}, "encoding": {"text": {"field": "t"}}},
{"data": {"name": "titleR"}, "mark": {"type": "text", "font": "Open Sans", "fontWeight": 800, "fontSize": 79, "fill": "white", "align": "center", "baseline": "alphabetic"}, "encoding": {"text": {"field": "t"}}}
]
}
]
}
